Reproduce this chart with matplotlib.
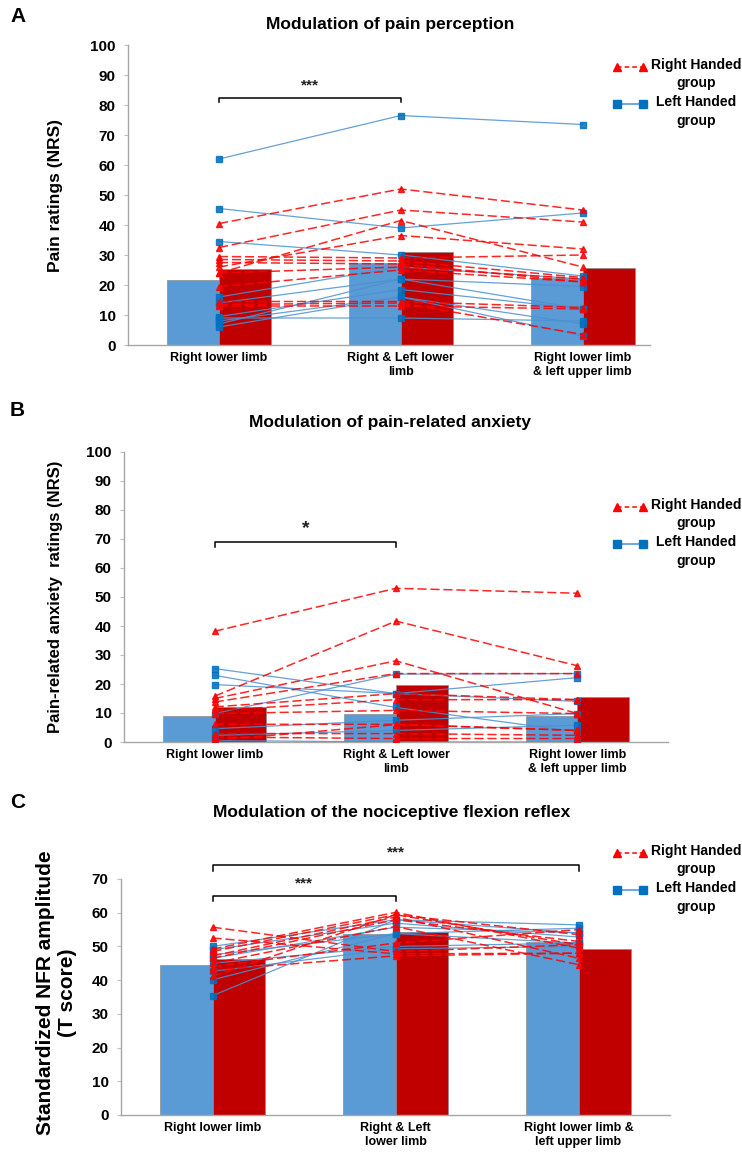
import matplotlib
matplotlib.use("Agg")
import matplotlib.pyplot as plt
from matplotlib.lines import Line2D
import numpy as np

plt.rcParams['font.family'] = ['Liberation Sans', 'DejaVu Sans']

conditions_ab = ["Right lower limb", "Right & Left lower\nlimb", "Right lower limb\n& left upper limb"]
conditions_c = ["Right lower limb", "Right & Left\nlower limb", "Right lower limb &\nleft upper limb"]

# Panel A - pain ratings
pain_bar_left = [21.7, 27.2, 22.2]
pain_bar_right = [25.2, 30.9, 25.8]
pain_left = [
    [62, 76.5, 73.5],
    [45.5, 39, 44],
    [34.5, 30, 23],
    [16, 26, 22],
    [14, 22, 19.5],
    [9.5, 18.5, 12],
    [8, 16, 7],
    [7, 22, 12],
    [6, 16, 3],
    [9, 9, 8],
]
pain_right = [
    [40.5, 52, 45],
    [32.5, 45, 41],
    [24, 41.5, 26],
    [26, 36.5, 32],
    [29.5, 29, 30],
    [28.5, 28, 22.5],
    [27.5, 27, 21],
    [24, 26, 22],
    [19.5, 25, 21],
    [14.5, 14.5, 12.5],
    [13.5, 14, 3.5],
    [13, 13, 12],
]

# Panel B - pain-related anxiety
anx_bar_left = [9.0, 9.6, 8.8]
anx_bar_right = [11.9, 19.8, 15.4]
anx_left = [
    [25.3, 16.7, 14],
    [23, 11.9, 3.5],
    [19.8, 16.7, 22.2],
    [9.8, 23.4, 23.6],
    [4.6, 7.5, 9.8],
    [2.3, 4, 5.8],
    [0.5, 0, 0],
]
anx_right = [
    [38.2, 53, 51.3],
    [15.8, 41.7, 26.3],
    [15, 28, 9.8],
    [13.8, 23.6, 23.6],
    [12.1, 16.7, 14.6],
    [10.9, 14.6, 14.6],
    [9.8, 10.9, 9.8],
    [6.1, 6.1, 4],
    [2.9, 2.9, 2.3],
    [1.7, 1.2, 1.2],
    [0.6, 6, 4],
]

# Panel C - NFR amplitude
nfr_bar_left = [44.5, 53.7, 51.2]
nfr_bar_right = [46.2, 54.4, 49.2]
nfr_left = [
    [50, 57.9, 56.4],
    [49, 56.9, 52.8],
    [47.5, 53.8, 55.4],
    [46.5, 55.7, 54],
    [45, 50, 51],
    [42.6, 49.3, 50],
    [40.1, 53.8, 51],
    [35.4, 57.9, 54],
]
nfr_right = [
    [55.7, 48.5, 50.5],
    [52.5, 47.8, 48],
    [49.2, 60.1, 49.5],
    [48.5, 59.4, 53.5],
    [47.2, 58.7, 46.5],
    [46.5, 57.9, 51.5],
    [45, 55.9, 44.6],
    [44, 51, 55],
    [43, 47.2, 48],
    [41.1, 59.4, 50.5],
]

BAR_BLUE = "#5B9BD5"
BAR_RED = "#C00000"
LINE_BLUE = "#4A90D0"
MARK_BLUE = "#0070C0"
RED = "#FF0000"
W = 0.285

fig = plt.figure(figsize=(7.42, 11.53), dpi=100)
H = 1153.0
FW = 742.0


def px_axes(left, right, top, bottom):
    return [left / FW, 1 - bottom / H, (right - left) / FW, (bottom - top) / H]


def panel(ax, bl, br, left, right, ymax, xmax, labels, ylabel, ylab_size):
    x = np.arange(3)
    ax.bar(x - W / 2, bl, W, color=BAR_BLUE, edgecolor="#8C8C8C", linewidth=0.5, zorder=1)
    ax.bar(x + W / 2, br, W, color=BAR_RED, edgecolor="#8C8C8C", linewidth=0.5, zorder=1)
    for s in left:
        ax.plot(x, s, color=LINE_BLUE, lw=0.9, alpha=0.85, zorder=3,
                marker="s", ms=4.5, mfc=MARK_BLUE, mec=MARK_BLUE)
    for s in right:
        ax.plot(x, s, color=RED, lw=1.1, alpha=0.85, zorder=4, dashes=(6, 2.5),
                marker="^", ms=4.5, mfc=RED, mec=RED)
    ax.set_xlim(-0.5, xmax)
    ax.set_ylim(0, ymax)
    ax.set_yticks(np.arange(0, ymax + 1, 10))
    ax.set_xticks(x)
    ax.set_xticklabels(labels, fontsize=9, fontweight="bold", linespacing=1.25)
    for lab in ax.get_yticklabels():
        lab.set_fontweight("bold")
        lab.set_fontsize(11)
    ax.tick_params(axis="x", length=0, pad=5)
    ax.tick_params(axis="y", length=3, color="#BFBFBF", pad=6)
    for sp in ["top", "right"]:
        ax.spines[sp].set_visible(False)
    for sp in ["left", "bottom"]:
        ax.spines[sp].set_color("#A6A6A6")
        ax.spines[sp].set_linewidth(1.0)
    ax.set_ylabel(ylabel, fontsize=ylab_size, fontweight="bold")


def bracket(ax, x0, x1, y, tick, star, star_y, size):
    ax.plot([x0, x0, x1, x1], [y - tick, y, y, y - tick], color="black", lw=1.1,
            clip_on=False, zorder=5)
    ax.text((x0 + x1) / 2, star_y, star, ha="center", va="center", fontsize=size,
            fontweight="bold", color="#222222")


def legend(top_y):
    yr = top_y
    yl = top_y + 38
    x0, x1, xc = 617 / FW, 643 / FW, 696 / FW
    fig.add_artist(Line2D([x0, x1], [1 - (yr + 5) / H] * 2, transform=fig.transFigure,
                          color=RED, lw=1.1, dashes=(3, 2), marker="^", ms=5.5,
                          mfc=RED, mec=RED))
    fig.add_artist(Line2D([x0, x1], [1 - (yl + 4) / H] * 2, transform=fig.transFigure,
                          color=LINE_BLUE, lw=1.1, marker="s", ms=5.5,
                          mfc=MARK_BLUE, mec=MARK_BLUE))
    fig.text(xc, 1 - (yr + 12) / H, "Right Handed\ngroup", ha="center", va="center",
             fontsize=10, fontweight="bold", linespacing=1.38)
    fig.text(xc, 1 - (yl + 11.5) / H, "Left Handed\ngroup", ha="center", va="center",
             fontsize=10, fontweight="bold", linespacing=1.38)


# Panel A
axA = fig.add_axes(px_axes(128, 650, 45, 345))
panel(axA, pain_bar_left, pain_bar_right, pain_left, pain_right, 100, 2.37,
      conditions_ab, "Pain ratings (NRS)", 12.5)
bracket(axA, 0, 1, 82.5, 1.4, "***", 86.5, 11)
axA.yaxis.set_label_coords(-0.125, 0.5)

# Panel B
axB = fig.add_axes(px_axes(124, 668, 452, 742))
panel(axB, anx_bar_left, anx_bar_right, anx_left, anx_right, 100, 2.5,
      conditions_ab, "Pain-related anxiety  ratings (NRS)", 12)
bracket(axB, 0, 1, 68.9, 1.5, "*", 73.5, 14)
axB.yaxis.set_label_coords(-0.112, 0.5)

# Panel C
axC = fig.add_axes(px_axes(121, 670, 879, 1115))
panel(axC, nfr_bar_left, nfr_bar_right, nfr_left, nfr_right, 70, 2.5,
      conditions_c, "Standardized NFR amplitude\n(T score)", 15)
bracket(axC, 0, 1, 64.9, 1.5, "***", 68.8, 11)
bracket(axC, 0, 2, 74.3, 1.8, "***", 77.8, 11)
axC.yaxis.set_label_coords(-0.08, 0.52)

legend(62)
legend(502)
legend(848)

# titles and panel letters
fig.text(390 / FW, 1 - 25 / H, "Modulation of pain perception", ha="center", va="center",
         fontsize=12.5, fontweight="bold")
fig.text(390 / FW, 1 - 423 / H, "Modulation of pain-related anxiety", ha="center", va="center",
         fontsize=12.5, fontweight="bold")
fig.text(392 / FW, 1 - 813 / H, "Modulation of the nociceptive flexion reflex", ha="center",
         va="center", fontsize=12.5, fontweight="bold")
fig.text(10 / FW, 1 - 17 / H, "A", ha="left", va="center", fontsize=15, fontweight="bold")
fig.text(10 / FW, 1 - 410 / H, "B", ha="left", va="center", fontsize=15, fontweight="bold")
fig.text(10 / FW, 1 - 802 / H, "C", ha="left", va="center", fontsize=15, fontweight="bold")

fig.savefig("out.png", dpi=100)
